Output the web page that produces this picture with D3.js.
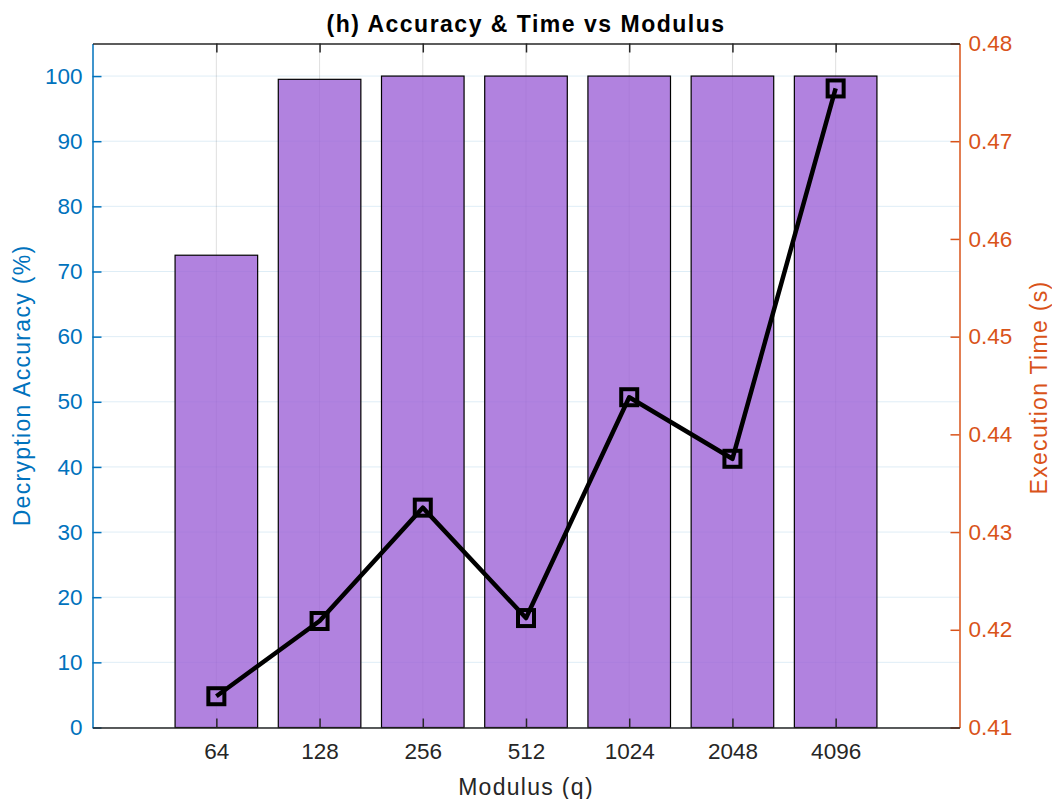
<!DOCTYPE html>
<html>
<head>
<meta charset="utf-8">
<script src="https://cdn.jsdelivr.net/npm/d3@7"></script>
<style>
  html, body { margin: 0; padding: 0; background: #fff; }
  svg { display: block; font-family: "Liberation Sans", Arial, Helvetica, sans-serif; }
</style>
</head>
<body>
<svg id="chart" width="1052" height="799"></svg>
<script>
// Modulus values (x categories)
const modulus = ["64", "128", "256", "512", "1024", "2048", "4096"];
// Decryption accuracy (%) per modulus, left axis
const accuracy = [72.5, 99.5, 100, 100, 100, 100, 100];
// Execution time (s) per modulus, right axis
const execTime = [0.4132, 0.4209, 0.4325, 0.4212, 0.4438, 0.4375, 0.4754];
// Tick values
const leftTicks = [0, 10, 20, 30, 40, 50, 60, 70, 80, 90, 100];
const rightTicks = [0.41, 0.42, 0.43, 0.44, 0.45, 0.46, 0.47, 0.48];

const blue = "#0072BD", orange = "#D95319", dark = "#262626";
const box = { left: 92.5, right: 959.5, top: 43.5, bottom: 727.5 };
const svg = d3.select("#chart");

const x = d3.scaleLinear().domain([-0.2, 8.2]).range([box.left, box.right]);
const yL = d3.scaleLinear().domain([0, 105]).range([box.bottom, box.top]);
const yR = d3.scaleLinear().domain([0.41, 0.48]).range([box.bottom, box.top]);
const pos = i => x(i + 1);
const barW = x(0.8) - x(0);

// Grid (left-axis horizontals, category verticals)
const grid = svg.append("g");
grid.selectAll("line.h").data(leftTicks).join("line")
  .attr("x1", box.left).attr("x2", box.right)
  .attr("y1", d => yL(d)).attr("y2", d => yL(d))
  .attr("stroke", "rgb(0,114,189)").attr("stroke-opacity", 0.13).attr("stroke-width", 1);
grid.selectAll("line.v").data(modulus).join("line")
  .attr("x1", (d, i) => pos(i)).attr("x2", (d, i) => pos(i))
  .attr("y1", box.top).attr("y2", box.bottom)
  .attr("stroke", dark).attr("stroke-opacity", 0.15).attr("stroke-width", 1);

// Accuracy bars
svg.append("g").selectAll("rect").data(accuracy).join("rect")
  .attr("x", (d, i) => pos(i) - barW / 2)
  .attr("width", barW)
  .attr("y", d => yL(d))
  .attr("height", d => yL(0) - yL(d))
  .attr("fill", "#9e63d7").attr("fill-opacity", 0.8)
  .attr("stroke", "#000").attr("stroke-width", 1.2);

// Axes
const tickFont = g => g.selectAll("text")
  .attr("font-size", 22.5)
  .attr("font-family", "'Liberation Sans', Arial, Helvetica, sans-serif");

const axL = svg.append("g").attr("transform", `translate(${box.left},0)`)
  .call(d3.axisLeft(yL).tickValues(leftTicks).tickSize(-9).tickSizeOuter(0).tickPadding(10));
axL.call(tickFont);
axL.selectAll("text").attr("fill", blue);
axL.selectAll("line").attr("stroke", blue).attr("stroke-width", 1.5);
axL.select(".domain").attr("stroke", blue).attr("stroke-width", 1.5);

const axR = svg.append("g").attr("transform", `translate(${box.right},0)`)
  .call(d3.axisRight(yR).tickValues(rightTicks).tickFormat(d3.format(".2f"))
    .tickSize(-9).tickSizeOuter(0).tickPadding(9));
axR.call(tickFont);
axR.selectAll("text").attr("fill", orange);
axR.selectAll("line").attr("stroke", orange).attr("stroke-width", 1.5);
axR.select(".domain").attr("stroke", orange).attr("stroke-width", 1.5);

const axB = svg.append("g").attr("transform", `translate(0,${box.bottom})`)
  .call(d3.axisBottom(x).tickValues(d3.range(1, modulus.length + 1))
    .tickFormat(d => modulus[d - 1]).tickSize(-9).tickSizeOuter(0).tickPadding(16));
axB.call(tickFont);
axB.selectAll("text").attr("fill", dark);
axB.selectAll("line").attr("stroke", dark).attr("stroke-width", 1.5);
axB.select(".domain").attr("stroke", dark).attr("stroke-width", 1.3);

const axT = svg.append("g").attr("transform", `translate(0,${box.top})`)
  .call(d3.axisTop(x).tickValues(d3.range(1, modulus.length + 1))
    .tickFormat("").tickSize(-9).tickSizeOuter(0));
axT.selectAll("line").attr("stroke", dark).attr("stroke-width", 1.5);
axT.select(".domain").attr("stroke", dark).attr("stroke-width", 1.3);

// Execution time line with square markers
const line = d3.line().x((d, i) => pos(i)).y(d => yR(d));
svg.append("path").datum(execTime)
  .attr("d", line).attr("fill", "none")
  .attr("stroke", "#000").attr("stroke-width", 4.5).attr("stroke-linejoin", "round");
const mk = 16;
svg.append("g").selectAll("rect").data(execTime).join("rect")
  .attr("x", (d, i) => pos(i) - mk / 2).attr("y", d => yR(d) - mk / 2)
  .attr("width", mk).attr("height", mk)
  .attr("fill", "none").attr("stroke", "#000").attr("stroke-width", 4);

// Title and axis labels
const cx = (box.left + box.right) / 2, cy = (box.top + box.bottom) / 2;
svg.append("text").attr("x", cx).attr("y", 32).attr("text-anchor", "middle")
  .attr("font-size", 23).attr("font-weight", "bold").attr("letter-spacing", "1.5px")
  .attr("fill", "#000").text("(h) Accuracy & Time vs Modulus");
svg.append("text").attr("x", cx).attr("y", 795).attr("text-anchor", "middle")
  .attr("font-size", 23).attr("letter-spacing", "1.3px")
  .attr("fill", dark).text("Modulus (q)");
svg.append("text").attr("transform", `translate(29.5,${cy}) rotate(-90)`)
  .attr("text-anchor", "middle").attr("font-size", 23).attr("letter-spacing", "1.3px")
  .attr("fill", blue).text("Decryption Accuracy (%)");
svg.append("text").attr("transform", `translate(1046.5,${cy + 2}) rotate(-90)`)
  .attr("text-anchor", "middle").attr("font-size", 23).attr("letter-spacing", "1.3px")
  .attr("fill", orange).text("Execution Time (s)");
</script>
</body>
</html>
